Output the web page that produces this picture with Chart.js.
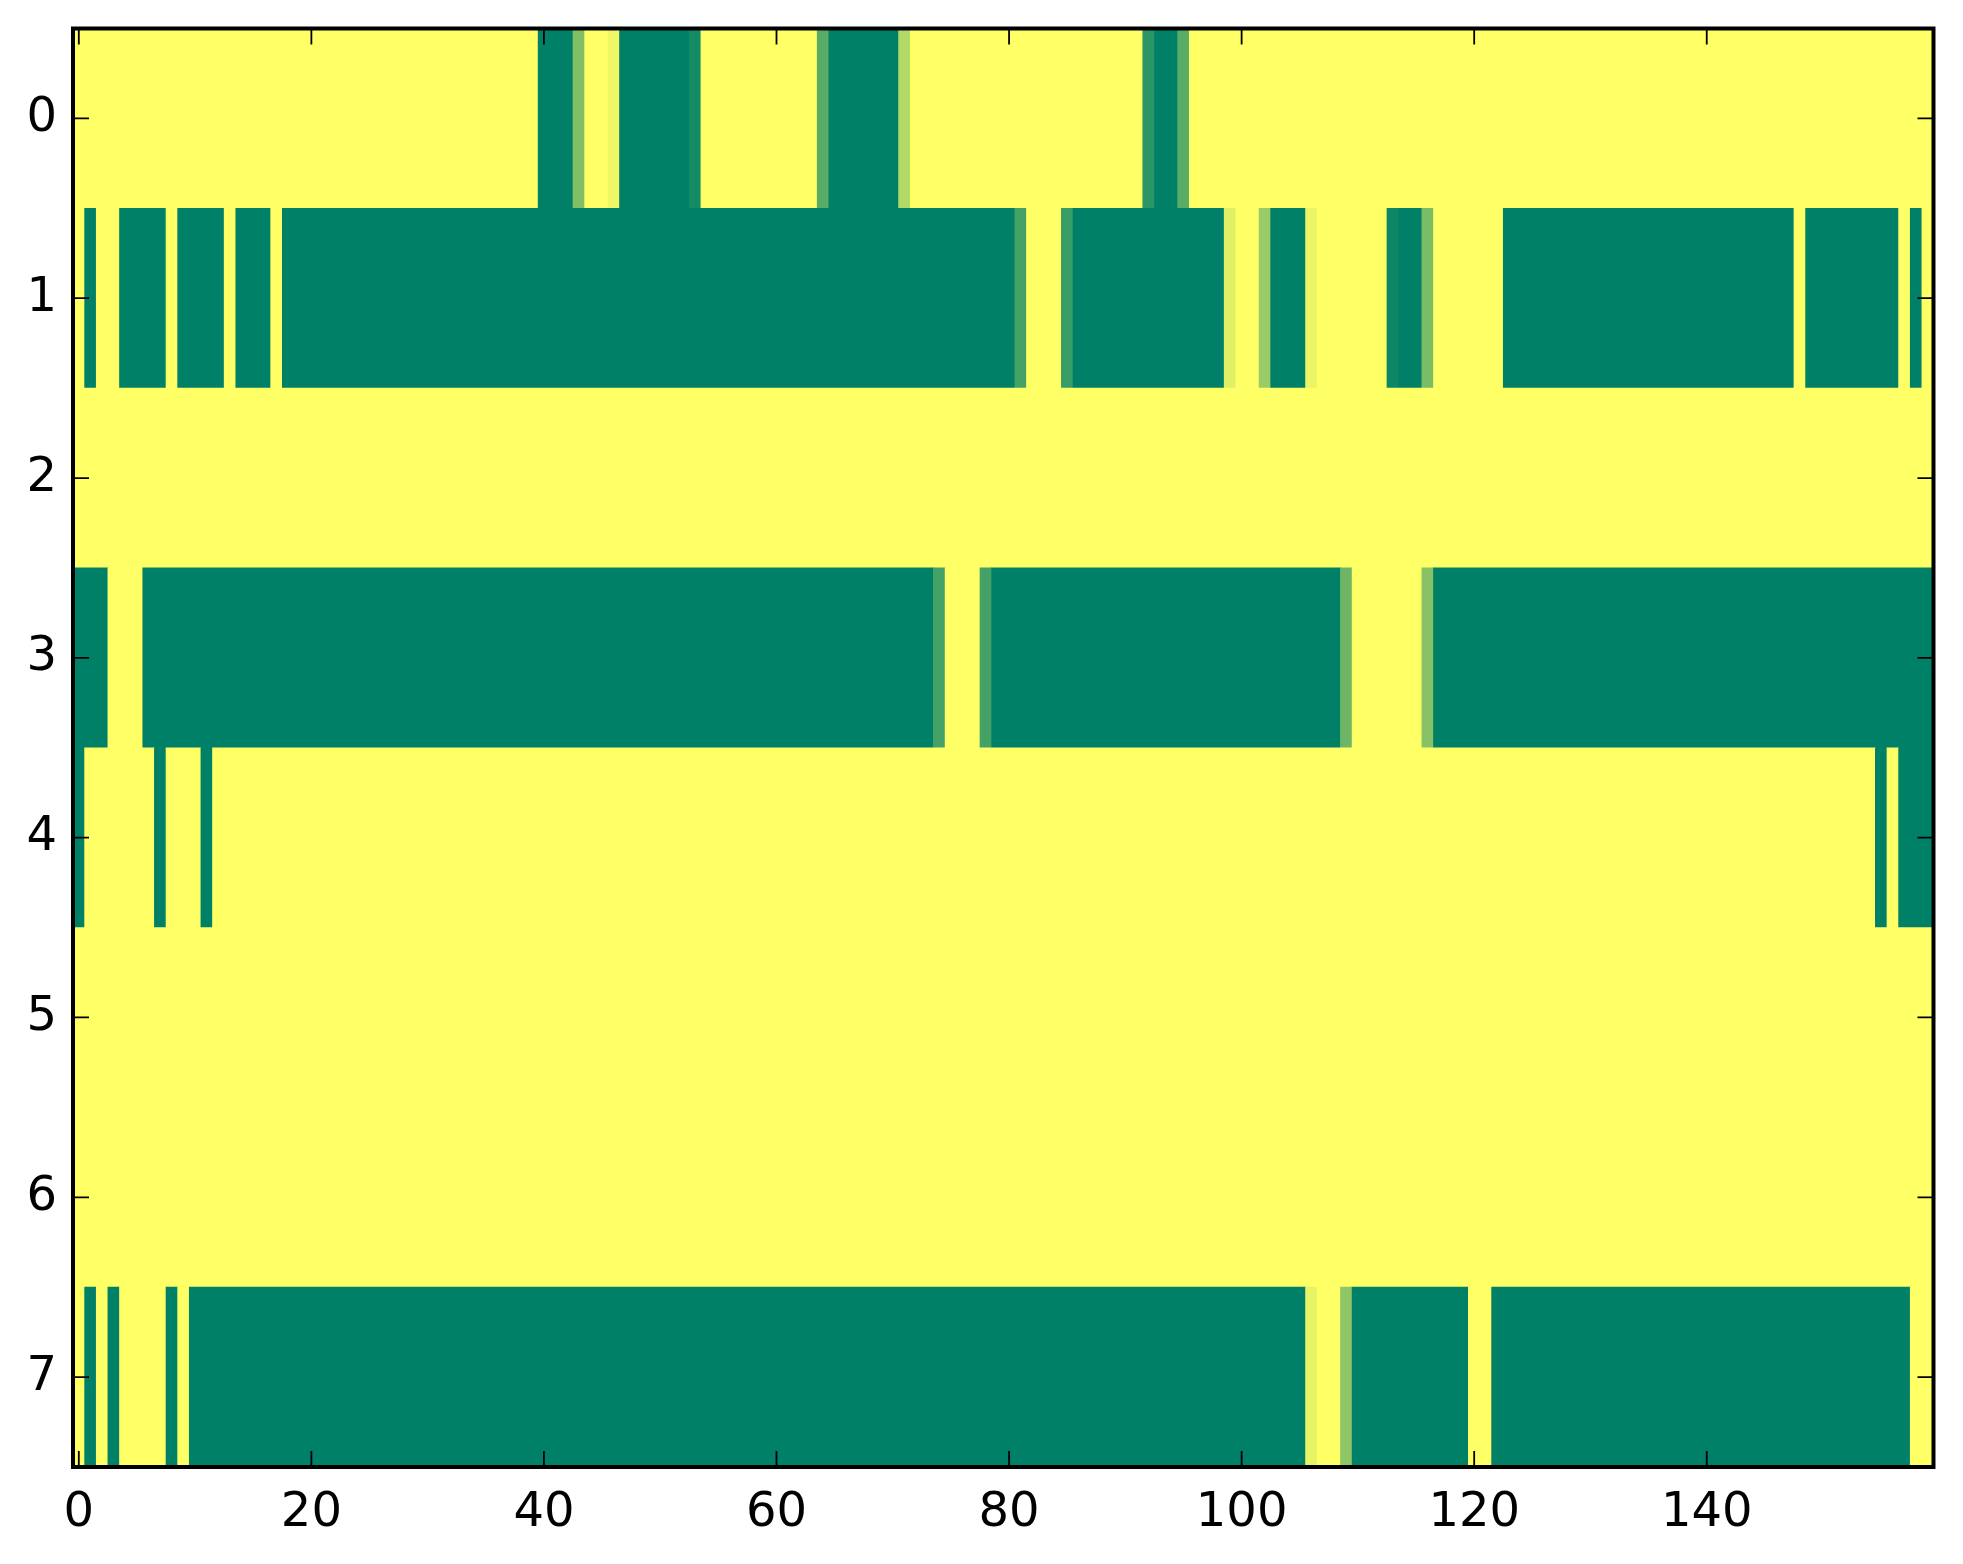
<!DOCTYPE html>
<html>
<head>
<meta charset="utf-8">
<title>Heatmap</title>
<script src="https://cdn.jsdelivr.net/npm/chart.js@4/dist/chart.umd.min.js"></script>
<style>
    html, body { margin: 0; padding: 0; background: #fff; }
    #wrap { position: relative; width: 1963px; height: 1564px; }
</style>
</head>
<body>
<div id="wrap"><canvas id="heatmap"></canvas></div>
<script>
// cell values per row (0 = dark green, 1 = yellow), columns 0..159
var row0 = [
    1, 1, 1, 1, 1, 1, 1, 1, 1, 1, 1, 1, 1, 1, 1, 1, 1, 1, 1, 1,
    1, 1, 1, 1, 1, 1, 1, 1, 1, 1, 1, 1, 1, 1, 1, 1, 1, 1, 1, 1,
    0, 0, 0, 0.5, 1, 1, 0.94, 0, 0, 0, 0, 0, 0, 0.08, 1, 1, 1, 1, 1, 1,
    1, 1, 1, 1, 0.35, 0, 0, 0, 0, 0, 0, 0.7, 1, 1, 1, 1, 1, 1, 1, 1,
    1, 1, 1, 1, 1, 1, 1, 1, 1, 1, 1, 1, 0.17, 0, 0, 0.35, 1, 1, 1, 1,
    1, 1, 1, 1, 1, 1, 1, 1, 1, 1, 1, 1, 1, 1, 1, 1, 1, 1, 1, 1,
    1, 1, 1, 1, 1, 1, 1, 1, 1, 1, 1, 1, 1, 1, 1, 1, 1, 1, 1, 1,
    1, 1, 1, 1, 1, 1, 1, 1, 1, 1, 1, 1, 1, 1, 1, 1, 1, 1, 1, 1
];
var row1 = [
    1, 0, 1, 1, 0, 0, 0, 0, 1, 0, 0, 0, 0, 1, 0, 0, 0, 1, 0, 0,
    0, 0, 0, 0, 0, 0, 0, 0, 0, 0, 0, 0, 0, 0, 0, 0, 0, 0, 0, 0,
    0, 0, 0, 0, 0, 0, 0, 0, 0, 0, 0, 0, 0, 0, 0, 0, 0, 0, 0, 0,
    0, 0, 0, 0, 0, 0, 0, 0, 0, 0, 0, 0, 0, 0, 0, 0, 0, 0, 0, 0,
    0, 0.27, 1, 1, 1, 0.22, 0, 0, 0, 0, 0, 0, 0, 0, 0, 0, 0, 0, 0, 0.88,
    1, 1, 0.6, 0, 0, 0, 0.92, 1, 1, 1, 1, 1, 1, 0.05, 0, 0, 0.48, 1, 1, 1,
    1, 1, 1, 0, 0, 0, 0, 0, 0, 0, 0, 0, 0, 0, 0, 0, 0, 0, 0, 0,
    0, 0, 0, 0, 0, 0, 0, 0, 1, 0, 0, 0, 0, 0, 0, 0, 0, 1, 0, 1
];
var row2 = [
    1, 1, 1, 1, 1, 1, 1, 1, 1, 1, 1, 1, 1, 1, 1, 1, 1, 1, 1, 1,
    1, 1, 1, 1, 1, 1, 1, 1, 1, 1, 1, 1, 1, 1, 1, 1, 1, 1, 1, 1,
    1, 1, 1, 1, 1, 1, 1, 1, 1, 1, 1, 1, 1, 1, 1, 1, 1, 1, 1, 1,
    1, 1, 1, 1, 1, 1, 1, 1, 1, 1, 1, 1, 1, 1, 1, 1, 1, 1, 1, 1,
    1, 1, 1, 1, 1, 1, 1, 1, 1, 1, 1, 1, 1, 1, 1, 1, 1, 1, 1, 1,
    1, 1, 1, 1, 1, 1, 1, 1, 1, 1, 1, 1, 1, 1, 1, 1, 1, 1, 1, 1,
    1, 1, 1, 1, 1, 1, 1, 1, 1, 1, 1, 1, 1, 1, 1, 1, 1, 1, 1, 1,
    1, 1, 1, 1, 1, 1, 1, 1, 1, 1, 1, 1, 1, 1, 1, 1, 1, 1, 1, 1
];
var row3 = [
    0, 0, 0, 1, 1, 1, 0, 0, 0, 0, 0, 0, 0, 0, 0, 0, 0, 0, 0, 0,
    0, 0, 0, 0, 0, 0, 0, 0, 0, 0, 0, 0, 0, 0, 0, 0, 0, 0, 0, 0,
    0, 0, 0, 0, 0, 0, 0, 0, 0, 0, 0, 0, 0, 0, 0, 0, 0, 0, 0, 0,
    0, 0, 0, 0, 0, 0, 0, 0, 0, 0, 0, 0, 0, 0, 0.27, 1, 1, 1, 0.27, 0,
    0, 0, 0, 0, 0, 0, 0, 0, 0, 0, 0, 0, 0, 0, 0, 0, 0, 0, 0, 0,
    0, 0, 0, 0, 0, 0, 0, 0, 0, 0.43, 1, 1, 1, 1, 1, 1, 0.53, 0, 0, 0,
    0, 0, 0, 0, 0, 0, 0, 0, 0, 0, 0, 0, 0, 0, 0, 0, 0, 0, 0, 0,
    0, 0, 0, 0, 0, 0, 0, 0, 0, 0, 0, 0, 0, 0, 0, 0, 0, 0, 0, 0
];
var row4 = [
    0, 1, 1, 1, 1, 1, 1, 0, 1, 1, 1, 0, 1, 1, 1, 1, 1, 1, 1, 1,
    1, 1, 1, 1, 1, 1, 1, 1, 1, 1, 1, 1, 1, 1, 1, 1, 1, 1, 1, 1,
    1, 1, 1, 1, 1, 1, 1, 1, 1, 1, 1, 1, 1, 1, 1, 1, 1, 1, 1, 1,
    1, 1, 1, 1, 1, 1, 1, 1, 1, 1, 1, 1, 1, 1, 1, 1, 1, 1, 1, 1,
    1, 1, 1, 1, 1, 1, 1, 1, 1, 1, 1, 1, 1, 1, 1, 1, 1, 1, 1, 1,
    1, 1, 1, 1, 1, 1, 1, 1, 1, 1, 1, 1, 1, 1, 1, 1, 1, 1, 1, 1,
    1, 1, 1, 1, 1, 1, 1, 1, 1, 1, 1, 1, 1, 1, 1, 1, 1, 1, 1, 1,
    1, 1, 1, 1, 1, 1, 1, 1, 1, 1, 1, 1, 1, 1, 1, 0, 1, 0, 0, 0
];
var row5 = [
    1, 1, 1, 1, 1, 1, 1, 1, 1, 1, 1, 1, 1, 1, 1, 1, 1, 1, 1, 1,
    1, 1, 1, 1, 1, 1, 1, 1, 1, 1, 1, 1, 1, 1, 1, 1, 1, 1, 1, 1,
    1, 1, 1, 1, 1, 1, 1, 1, 1, 1, 1, 1, 1, 1, 1, 1, 1, 1, 1, 1,
    1, 1, 1, 1, 1, 1, 1, 1, 1, 1, 1, 1, 1, 1, 1, 1, 1, 1, 1, 1,
    1, 1, 1, 1, 1, 1, 1, 1, 1, 1, 1, 1, 1, 1, 1, 1, 1, 1, 1, 1,
    1, 1, 1, 1, 1, 1, 1, 1, 1, 1, 1, 1, 1, 1, 1, 1, 1, 1, 1, 1,
    1, 1, 1, 1, 1, 1, 1, 1, 1, 1, 1, 1, 1, 1, 1, 1, 1, 1, 1, 1,
    1, 1, 1, 1, 1, 1, 1, 1, 1, 1, 1, 1, 1, 1, 1, 1, 1, 1, 1, 1
];
var row6 = [
    1, 1, 1, 1, 1, 1, 1, 1, 1, 1, 1, 1, 1, 1, 1, 1, 1, 1, 1, 1,
    1, 1, 1, 1, 1, 1, 1, 1, 1, 1, 1, 1, 1, 1, 1, 1, 1, 1, 1, 1,
    1, 1, 1, 1, 1, 1, 1, 1, 1, 1, 1, 1, 1, 1, 1, 1, 1, 1, 1, 1,
    1, 1, 1, 1, 1, 1, 1, 1, 1, 1, 1, 1, 1, 1, 1, 1, 1, 1, 1, 1,
    1, 1, 1, 1, 1, 1, 1, 1, 1, 1, 1, 1, 1, 1, 1, 1, 1, 1, 1, 1,
    1, 1, 1, 1, 1, 1, 1, 1, 1, 1, 1, 1, 1, 1, 1, 1, 1, 1, 1, 1,
    1, 1, 1, 1, 1, 1, 1, 1, 1, 1, 1, 1, 1, 1, 1, 1, 1, 1, 1, 1,
    1, 1, 1, 1, 1, 1, 1, 1, 1, 1, 1, 1, 1, 1, 1, 1, 1, 1, 1, 1
];
var row7 = [
    1, 0, 1, 0, 1, 1, 1, 1, 0, 1, 0, 0, 0, 0, 0, 0, 0, 0, 0, 0,
    0, 0, 0, 0, 0, 0, 0, 0, 0, 0, 0, 0, 0, 0, 0, 0, 0, 0, 0, 0,
    0, 0, 0, 0, 0, 0, 0, 0, 0, 0, 0, 0, 0, 0, 0, 0, 0, 0, 0, 0,
    0, 0, 0, 0, 0, 0, 0, 0, 0, 0, 0, 0, 0, 0, 0, 0, 0, 0, 0, 0,
    0, 0, 0, 0, 0, 0, 0, 0, 0, 0, 0, 0, 0, 0, 0, 0, 0, 0, 0, 0,
    0, 0, 0, 0, 0, 0, 0.91, 1, 1, 0.56, 0, 0, 0, 0, 0, 0, 0, 0, 0, 0,
    1, 1, 0, 0, 0, 0, 0, 0, 0, 0, 0, 0, 0, 0, 0, 0, 0, 0, 0, 0,
    0, 0, 0, 0, 0, 0, 0, 0, 0, 0, 0, 0, 0, 0, 0, 0, 0, 0, 1, 1
];
var rows = [row0, row1, row2, row3, row4, row5, row6, row7];

var xTicks = [0, 20, 40, 60, 80, 100, 120, 140];
var yTicks = [0, 1, 2, 3, 4, 5, 6, 7];

(function () {
    'use strict';

    // matplotlib "summer": r = v, g = 0.5 + v/2, b = 0.4
    function summer(v) {
        return 'rgb(' + Math.round(255 * v) + ',' + Math.round(127.5 + 127.5 * v) + ',102)';
    }

    // one floating bar per run of equal cells, so same-colour neighbours show no seams
    var cells = [], colors = [];
    rows.forEach(function (vals, r) {
        var start = 0;
        for (var c = 1; c <= vals.length; c++) {
            if (c === vals.length || vals[c] !== vals[start]) {
                cells.push({ x: [start - 0.5, c - 0.5], y: r });
                colors.push(summer(vals[start]));
                start = c;
            }
        }
    });

    var tickFont = { family: 'DejaVu Sans', size: 48 };

    var areaFill = {
        id: 'areaFill',
        beforeDatasetsDraw: function (chart) {
            var a = chart.chartArea, ctx = chart.ctx;
            ctx.save();
            ctx.fillStyle = summer(1);
            ctx.fillRect(a.left, a.top, a.right - a.left, a.bottom - a.top);
            ctx.restore();
        }
    };

    // inward ticks on all four sides plus the black frame
    var frame = {
        id: 'frame',
        afterDraw: function (chart) {
            var a = chart.chartArea, ctx = chart.ctx;
            var xs = chart.scales.x, ys = chart.scales.y, len = 16;
            ctx.save();
            ctx.strokeStyle = '#000';
            ctx.lineWidth = 1.8;
            ctx.beginPath();
            xTicks.forEach(function (v) {
                var px = xs.getPixelForValue(v);
                ctx.moveTo(px, a.bottom); ctx.lineTo(px, a.bottom - len);
                ctx.moveTo(px, a.top);    ctx.lineTo(px, a.top + len);
            });
            yTicks.forEach(function (v) {
                var py = ys.getPixelForValue(v);
                ctx.moveTo(a.left, py);  ctx.lineTo(a.left + len, py);
                ctx.moveTo(a.right, py); ctx.lineTo(a.right - len, py);
            });
            ctx.stroke();
            ctx.lineWidth = 4;
            ctx.strokeRect(a.left, a.top, a.right - a.left, a.bottom - a.top);
            ctx.restore();
        }
    };

    new Chart(document.getElementById('heatmap'), {
        type: 'bar',
        data: {
            datasets: [{
                data: cells,
                backgroundColor: colors,
                borderWidth: 0,
                barPercentage: 1,
                categoryPercentage: 1,
                grouped: false
            }]
        },
        options: {
            indexAxis: 'y',
            responsive: true,
            maintainAspectRatio: false,
            animation: false,
            layout: { padding: { top: 28.5, right: 29.5, left: 0, bottom: 0 } },
            plugins: { legend: { display: false }, tooltip: { enabled: false } },
            scales: {
                x: {
                    type: 'linear', min: -0.5, max: 159.5, offset: false,
                    grid: { display: false, drawTicks: false, offset: false },
                    border: { display: false },
                    afterBuildTicks: function (s) { s.ticks = xTicks.map(function (v) { return { value: v }; }); },
                    afterFit: function (s) { s.height = 97; s.paddingLeft = 0; s.paddingRight = 0; },
                    ticks: { font: tickFont, color: '#000', padding: 18, maxRotation: 0, autoSkip: false }
                },
                y: {
                    type: 'linear', min: -0.5, max: 7.5, reverse: true, offset: false,
                    grid: { display: false, drawTicks: false, offset: false },
                    border: { display: false },
                    afterBuildTicks: function (s) { s.ticks = yTicks.map(function (v) { return { value: v }; }); },
                    afterFit: function (s) { s.width = 73; s.paddingTop = 0; s.paddingBottom = 0; },
                    ticks: { font: tickFont, color: '#000', padding: 16, autoSkip: false }
                }
            }
        },
        plugins: [areaFill, frame]
    });
})();
</script>
</body>
</html>
